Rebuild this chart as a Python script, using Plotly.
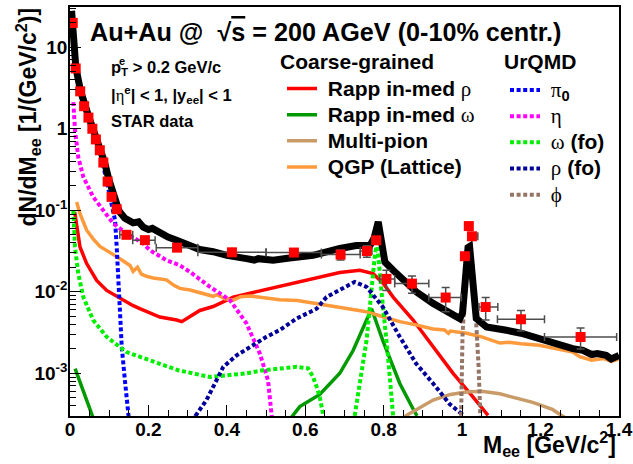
import plotly.graph_objects as go

# ---------------- data ----------------
data_x = [0.007, 0.0145, 0.026, 0.036, 0.047, 0.057, 0.066, 0.076, 0.085, 0.096, 0.106, 0.119,
          0.144, 0.191, 0.273, 0.413, 0.571, 0.69, 0.757, 0.781, 0.807, 0.872, 0.958,
          1.007, 1.017, 1.025, 1.06, 1.15, 1.302]
data_y = [19.9, 5.5, 2.88, 1.89, 1.37, 1.0, 0.74, 0.545, 0.385, 0.225, 0.146, 0.103,
          0.050, 0.043, 0.0348, 0.0305, 0.0303, 0.0286, 0.0316, 0.0428, 0.0144, 0.0126, 0.0085,
          0.0273, 0.064, 0.048, 0.0065, 0.0046, 0.00279]
data_xlo = [0.002, 0.0095, 0.021, 0.031, 0.042, 0.052, 0.061, 0.071, 0.080, 0.091, 0.101, 0.114,
            0.127, 0.16, 0.22, 0.326, 0.50, 0.641, 0.74, 0.77, 0.79, 0.828, 0.915,
            0.998, 1.012, 1.022, 1.043, 1.09, 1.21]
data_xhi = [0.012, 0.0195, 0.031, 0.041, 0.052, 0.062, 0.071, 0.081, 0.090, 0.101, 0.111, 0.124,
            0.16, 0.217, 0.326, 0.50, 0.641, 0.74, 0.77, 0.79, 0.828, 0.915, 0.998,
            1.012, 1.022, 1.04, 1.091, 1.21, 1.394]
data_yerr = [0.4, 0.11, 0.06, 0.04, 0.03, 0.02, 0.015, 0.011, 0.008, 0.005, 0.003, 0.002,
             0.003, 0.002, 0.0015, 0.0012, 0.0015, 0.004, 0.005, 0.004, 0.004, 0.003, 0.0028,
             0.002, 0.003, 0.003, 0.002, 0.0013, 0.0008]

total_x = [0.004, 0.008, 0.015, 0.027, 0.037, 0.048, 0.058, 0.068, 0.078, 0.088, 0.099, 0.11, 0.123,
           0.127, 0.14, 0.161, 0.175, 0.187, 0.2, 0.21, 0.229, 0.25, 0.272, 0.3, 0.331, 0.365, 0.4,
           0.45, 0.47, 0.48, 0.518, 0.56, 0.62, 0.688, 0.73, 0.765, 0.775, 0.786, 0.794, 0.803,
           0.824, 0.849, 0.883, 0.926, 0.968, 0.994, 1.001, 1.009, 1.015, 1.019, 1.024, 1.028,
           1.036, 1.062, 1.096, 1.113, 1.15, 1.18, 1.23, 1.282, 1.308, 1.33, 1.345, 1.367, 1.38, 1.4]
total_y = [28, 17, 5.6, 2.9, 1.95, 1.4, 1.02, 0.75, 0.55, 0.39, 0.24, 0.155, 0.105,
           0.095, 0.08, 0.07, 0.072, 0.062, 0.058, 0.06, 0.052, 0.047, 0.043, 0.037, 0.033, 0.031, 0.028,
           0.0255, 0.0245, 0.0255, 0.0244, 0.026, 0.028, 0.034, 0.037, 0.037, 0.045, 0.072, 0.037, 0.0232,
           0.0184, 0.0138, 0.010, 0.0072, 0.00565, 0.0047, 0.0055, 0.021, 0.035, 0.036, 0.022, 0.010,
           0.0047, 0.0037, 0.00353, 0.00337, 0.0031, 0.00279, 0.0024, 0.00201, 0.00191, 0.0017, 0.00175,
           0.00166, 0.0015, 0.00165]

rho_x = [0.012, 0.0255, 0.0425, 0.068, 0.0935, 0.127, 0.16, 0.178, 0.229, 0.272, 0.285, 0.331, 0.365,
         0.416, 0.4925, 0.55, 0.6, 0.637, 0.688, 0.739, 0.773, 0.8, 0.824, 0.875, 0.926, 0.977, 1.028, 1.066]
rho_y = [0.095, 0.0355, 0.0222, 0.0138, 0.0104, 0.0083, 0.0068, 0.0062, 0.0049, 0.0045, 0.0043, 0.0059,
         0.0066, 0.0086, 0.0104, 0.0122, 0.0137, 0.0152, 0.0172, 0.0184, 0.0167, 0.0125, 0.0086, 0.0045,
         0.0021, 0.001, 0.00051, 0.000305]

omega_x = [0.013, 0.034, 0.055, 0.06, None, 0.56, 0.586, 0.637, 0.671, 0.688, 0.722, 0.769, 0.798,
           0.841, 0.879, 0.885]
omega_y = [0.00114, 0.00062, 0.00032, 0.00027, None, 0.00027, 0.00039, 0.00055, 0.00082, 0.001, 0.0019,
           0.0062, 0.0025, 0.00075, 0.000335, 0.0003]

multipion_x = [0.85, 0.858, 0.926, 0.97, 1.011, 1.05, 1.096, 1.14, 1.18, 1.23, 1.261, 1.265]
multipion_y = [0.00028, 0.000305, 0.00047, 0.00055, 0.00059, 0.0006, 0.00056, 0.0005, 0.00044, 0.00036,
               0.00029, 0.00028]

qgp_x = [0.017, 0.0255, 0.0425, 0.06, 0.0764, 0.1, 0.119, 0.135, 0.153, 0.161, 0.172, 0.182, 0.195,
         0.212, 0.229, 0.246, 0.265, 0.28, 0.306, 0.323, 0.345, 0.365, 0.375, 0.395, 0.416, 0.435,
         0.459, 0.5, 0.535, 0.58, 0.62, 0.688, 0.756, 0.8, 0.841, 0.885, 0.926, 0.955, 0.965, 0.97,
         1.011, 1.05, 1.096, 1.12, 1.15, 1.197, 1.24, 1.282, 1.3, 1.316, 1.33, 1.36, 1.38, 1.4]
qgp_y = [0.126, 0.091, 0.057, 0.044, 0.036, 0.031, 0.027, 0.024, 0.021, 0.0178, 0.02, 0.0165, 0.0155,
         0.0148, 0.0145, 0.014, 0.012, 0.011, 0.0105, 0.010, 0.0094, 0.0088, 0.0092, 0.0082, 0.0079,
         0.0087, 0.0089, 0.0085, 0.0080, 0.0078, 0.0073, 0.0064, 0.0057, 0.0049, 0.0043, 0.0039, 0.0035,
         0.0034, 0.0031, 0.0033, 0.0031, 0.0028, 0.00235, 0.0024, 0.0023, 0.00221, 0.0020, 0.00182,
         0.0016, 0.0015, 0.00145, 0.00152, 0.0014, 0.0015]

pi0_x = [0.004, 0.008, 0.015, 0.026, 0.036, 0.047, 0.057, 0.066, 0.076, 0.085, 0.098, 0.11, 0.115,
         0.119, 0.123, 0.127, 0.132, 0.14, 0.149, 0.151]
pi0_y = [24, 16, 5.2, 2.7, 1.8, 1.3, 0.95, 0.7, 0.5, 0.35, 0.18, 0.1, 0.075, 0.036, 0.014, 0.0054,
         0.0021, 0.00082, 0.00032, 0.00025]

eta_x = [0.0085, 0.0127, 0.021, 0.034, 0.059, 0.085, 0.11, 0.144, 0.187, 0.204, 0.246, 0.28, 0.306,
         0.357, 0.408, 0.45, 0.484, 0.505, 0.514, 0.516]
eta_y = [2.13, 0.97, 0.45, 0.256, 0.146, 0.1, 0.069, 0.052, 0.039, 0.0323, 0.0244, 0.0211, 0.0175,
         0.0115, 0.0079, 0.0041, 0.00175, 0.00082, 0.00032, 0.00025]

omegafo_x = [0.0085, 0.0127, 0.021, 0.034, 0.059, 0.0935, 0.144, 0.229, 0.276, 0.357, 0.4, 0.45,
             0.4925, 0.55, 0.578, 0.607, 0.62, 0.629, 0.637, 0.645, 0.648, None,
             0.724, 0.726, 0.743, 0.756, 0.764, 0.771, 0.778, 0.782, 0.787, 0.794, 0.803, 0.811,
             0.824, 0.826]
omegafo_y = [0.1, 0.0355, 0.0167, 0.0086, 0.0045, 0.0028, 0.00182, 0.00131, 0.00109, 0.0009, 0.00095,
             0.001, 0.00109, 0.00115, 0.0012, 0.00115, 0.0009, 0.00068, 0.00051, 0.00032, 0.00025, None,
             0.00025, 0.0003, 0.001, 0.0025, 0.006, 0.015, 0.03, 0.036, 0.025, 0.0104, 0.0041, 0.0016,
             0.0003, 0.00025]

rhofo_x = [0.316, 0.32, 0.348, 0.374, 0.391, 0.425, 0.459, 0.501, 0.535, 0.578, 0.629, 0.654, 0.679,
           0.726, 0.756, 0.798, 0.841, 0.883, 0.926, 0.968, 0.998, 1.0]
rhofo_y = [0.00025, 0.0003, 0.00047, 0.00082, 0.0012, 0.00166, 0.0021, 0.0028, 0.0034, 0.0047, 0.0062,
           0.0086, 0.01, 0.0132, 0.0115, 0.0065, 0.0028, 0.00131, 0.00075, 0.00042, 0.00032, 0.00025]

phi_x = [0.997, 0.999, 1.001, 1.006, 1.012, 1.019, 1.026, 1.031, 1.036, 1.042, 1.047]
phi_y = [0.00025, 0.001, 0.003, 0.008, 0.022, 0.038, 0.022, 0.008, 0.004, 0.0012, 0.00025]

x_tickvals = [0, 0.2, 0.4, 0.6, 0.8, 1.0, 1.2, 1.4]
x_ticktext = ["0", "0.2", "0.4", "0.6", "0.8", "1", "1.2", "1.4"]
y_tickvals = [1e-3, 1e-2, 1e-1, 1, 10]
y_ticktext = ["10<sup>-3</sup>", "10<sup>-2</sup>", "10<sup>-1</sup>", "1", "10"]
y_minor = [m * 10.0 ** e for e in range(-4, 2) for m in range(2, 10)]

# ---------------- styling ----------------
SANS = "Liberation Sans, Arial, sans-serif"
SERIF = "Liberation Serif"
NB = "\u00a0"


def greek(s):
    return f"<span style='font-family:{SERIF};font-weight:normal'>{s}</span>"


def big(s):
    return f"<span style='font-size:21px'>{NB}{s}</span>"


DOT = "4px,2.6px"

fig = go.Figure()


def curve(x, y, color, width, name, legend, dash="solid"):
    fig.add_trace(go.Scatter(
        x=x, y=y, mode="lines", name=name, legend=legend,
        line=dict(color=color, width=width, dash=dash),
        connectgaps=False, hoverinfo="skip"))


curve(rho_x, rho_y, "#ff0000", 3.5, big("Rapp in-med " + greek("ρ")), "legend")
curve(omega_x, omega_y, "#009a00", 3.5, big("Rapp in-med " + greek("ω")), "legend")
curve(multipion_x, multipion_y, "#c89b69", 3.5, big("Multi-pion"), "legend")
curve(qgp_x, qgp_y, "#fd9a3c", 3.5, big("QGP (Lattice)"), "legend")

curve(pi0_x, pi0_y, "#0000ff", 4, big(greek("π") + "<sub>0</sub>"), "legend2", DOT)
curve(eta_x, eta_y, "#ff00ff", 4, big(greek("η")), "legend2", DOT)
curve(omegafo_x, omegafo_y, "#00ee00", 4, big(greek("ω") + " (fo)"), "legend2", DOT)
curve(rhofo_x, rhofo_y, "#000099", 4, big(greek("ρ") + " (fo)"), "legend2", DOT)
curve(phi_x, phi_y, "#957565", 4, big(greek("ϕ")), "legend2", DOT)

fig.add_trace(go.Scatter(x=total_x, y=total_y, mode="lines", showlegend=False,
                         line=dict(color="black", width=7), hoverinfo="skip"))

fig.add_trace(go.Scatter(
    x=data_x, y=data_y, mode="markers", showlegend=False,
    marker=dict(symbol="square", size=10, color="#ff0000", line=dict(width=0)),
    error_x=dict(type="data", symmetric=False,
                 array=[h - x for h, x in zip(data_xhi, data_x)],
                 arrayminus=[x - l for l, x in zip(data_xlo, data_x)],
                 color="#4d4d4d", thickness=1.5, width=4),
    error_y=dict(type="data", array=data_yerr, color="#4d4d4d", thickness=1.5, width=4),
    hoverinfo="skip"))

# ---------------- layout ----------------
L, R, T, B = 70, 619, 7, 416
W, H = 633, 464


def px(xp):
    return (xp - L) / (R - L)


def py(yp):
    return (B - yp) / (B - T)


fig.update_layout(
    template="none",
    width=W, height=H,
    margin=dict(l=L, r=W - R, t=T, b=H - B, pad=0, autoexpand=False),
    paper_bgcolor="white", plot_bgcolor="white",
    font=dict(family=SANS, color="black"),
    legend=dict(x=px(282), y=py(70.5), xanchor="left", yanchor="top",
                bgcolor="rgba(0,0,0,0)", borderwidth=0, itemwidth=30,
                font=dict(family=SANS, size=17.8, weight="bold", color="black")),
    legend2=dict(x=px(505), y=py(72), xanchor="left", yanchor="top",
                 bgcolor="rgba(0,0,0,0)", borderwidth=0, itemwidth=30,
                 font=dict(family=SANS, size=17.8, weight="bold", color="black")),
)

fig.update_xaxes(
    range=[0, 1.4], showgrid=False, zeroline=False, automargin=False,
    showline=True, linecolor="black", linewidth=1.5, mirror=True,
    tickmode="array", tickvals=x_tickvals, ticktext=x_ticktext,
    ticks="inside", ticklen=11, tickwidth=1.2, tickcolor="black", ticklabelstandoff=-5,
    tickfont=dict(family=SANS, size=19, weight="bold", color="black"),
    minor=dict(dtick=0.05, tick0=0, ticks="inside", ticklen=6, tickwidth=1.2, tickcolor="black",
               showgrid=False),
)
fig.update_yaxes(
    type="log", range=[-3.524, 1.494], showgrid=False, zeroline=False, automargin=False,
    showline=True, linecolor="black", linewidth=1.5, mirror=True,
    tickmode="array", tickvals=y_tickvals, ticktext=y_ticktext,
    ticks="inside", ticklen=11, tickwidth=1.2, tickcolor="black", ticklabelstandoff=-3,
    tickfont=dict(family=SANS, size=19, weight="bold", color="black"),
    minor=dict(tickmode="array", tickvals=y_minor, ticks="inside", ticklen=6, tickwidth=1.2,
               tickcolor="black", showgrid=False),
)


def note(text, x, y, size, xanchor="left", yanchor="middle", angle=0):
    fig.add_annotation(text=text, x=x, y=y, xref="paper", yref="paper",
                       xanchor=xanchor, yanchor=yanchor, showarrow=False, textangle=angle,
                       font=dict(family=SANS, size=size, weight="bold", color="black"))


note("Au+Au @  √<span style='text-decoration:overline'>s</span> = 200 AGeV (0-10% centr.)",
     px(88), py(32.4), 25.2)
note("p<sub>T</sub> > 0.2 GeV/c", px(109), py(68), 16.5)
note("e", px(116.5), py(61), 11)
note("|" + greek("η") + "<sup>e</sup>| < 1, |y<sub>ee</sub>| < 1", px(109), py(95), 16.5)
note("STAR data", px(109), py(121), 16.5)
note("Coarse-grained", px(278), py(61.7), 21)
note("UrQMD", px(502), py(61.7), 21)
note("M<sub>ee</sub> [GeV/c<sup>2</sup>]", px(618), py(444), 23, xanchor="right")
note("dN/dM<sub>ee</sub> [1/(GeV/c<sup>2</sup>)]", px(28), py(6), 23,
     xanchor="center", yanchor="top", angle=-90)

fig.write_html("out.html", config={"displayModeBar": False},
               post_script="document.body.style.margin='0';document.body.style.padding='0';")
